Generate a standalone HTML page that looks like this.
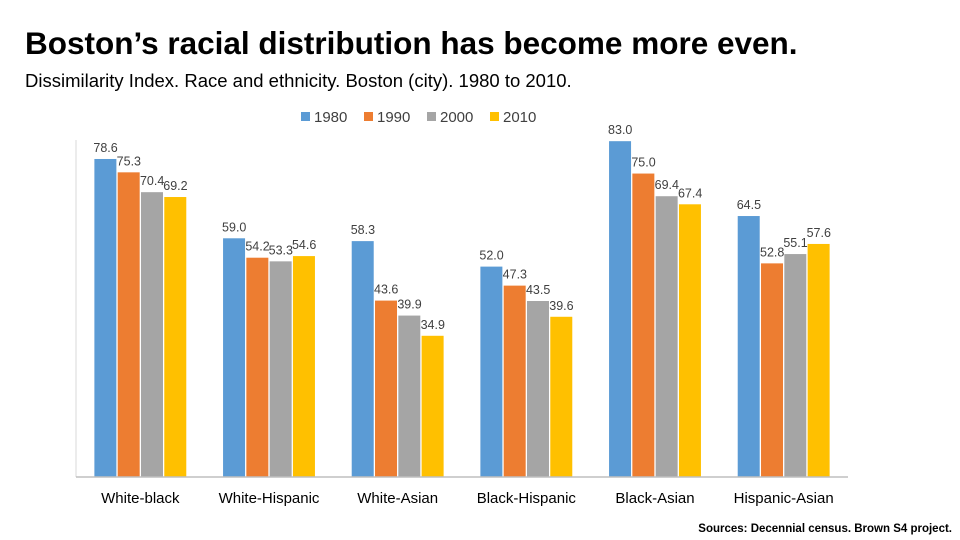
<!DOCTYPE html>
<html><head><meta charset="utf-8"><style>
body{margin:0;background:#fff;font-family:"Liberation Sans",sans-serif;}
#c{position:relative;width:960px;height:540px;overflow:hidden}
</style></head><body><div id="c">
<svg width="960" height="540" id="svg">
<text x="25" y="54" font-size="31.5" font-weight="bold" fill="#000">Boston’s racial distribution has become more even.</text>
<text x="25" y="87" font-size="18.5" fill="#000">Dissimilarity Index. Race and ethnicity. Boston (city). 1980 to 2010.</text>
<text x="952" y="532" font-size="11.5" font-weight="bold" text-anchor="end" fill="#000">Sources: Decennial census. Brown S4 project.</text>
<g id="legend"></g>
<g id="bars"></g>
<line x1="76" y1="140" x2="76" y2="477" stroke="#d9d9d9"/>
<line x1="76" y1="477" x2="848" y2="477" stroke="#bfbfbf" stroke-width="1.5"/>
</svg></div>
<script>
const categories=["White-black","White-Hispanic","White-Asian","Black-Hispanic","Black-Asian","Hispanic-Asian"];
const seriesNames=["1980","1990","2000","2010"];
const s1980=[78.6,59.0,58.3,52.0,83.0,64.5];
const s1990=[75.3,54.2,43.6,47.3,75.0,52.8];
const s2000=[70.4,53.3,39.9,43.5,69.4,55.1];
const s2010=[69.2,54.6,34.9,39.6,67.4,57.6];
const series=[s1980,s1990,s2000,s2010];
const colors=["#5b9bd5","#ed7d31","#a5a5a5","#ffc000"];
const NS="http://www.w3.org/2000/svg";
const x0=76,x1=848,y0=477,k=4.046;
const gw=(x1-x0)/categories.length,bw=22,gap=1.3;
const yS=v=>y0-v*k;
const bars=document.getElementById('bars');
function mk(t,a){const e=document.createElementNS(NS,t);for(const n in a)e.setAttribute(n,a[n]);return e;}
categories.forEach((c,i)=>{
  const cx=x0+gw*(i+0.5);
  const start=cx-(4*bw+3*gap)/2;
  series.forEach((s,j)=>{
    const x=start+j*(bw+gap);
    const r=mk('rect',{x:x,y:yS(s[i]),width:bw,height:s[i]*k,fill:colors[j]});
    
    
    bars.appendChild(r);
    const t=mk('text',{x:x-1,y:yS(s[i])-7,'font-size':12.5,fill:'#404040'});
    t.textContent=s[i].toFixed(1);
    
    
    bars.appendChild(t);
  });
  const l=mk('text',{x:cx,y:503,'font-size':15,'text-anchor':'middle',fill:'#000'});
  l.textContent=c;
  
  
  bars.appendChild(l);
});
const lg=document.getElementById('legend');
let x=301;
seriesNames.forEach((n,j)=>{
  const r=mk('rect',{x:x,y:112,width:9,height:9,fill:colors[j]});
  
  
  lg.appendChild(r);
  const t=mk('text',{x:x+13,y:122,'font-size':15,fill:'#404040'});
  t.textContent=n;
  
  
  lg.appendChild(t);
  x+=63;
});
</script></body></html>
